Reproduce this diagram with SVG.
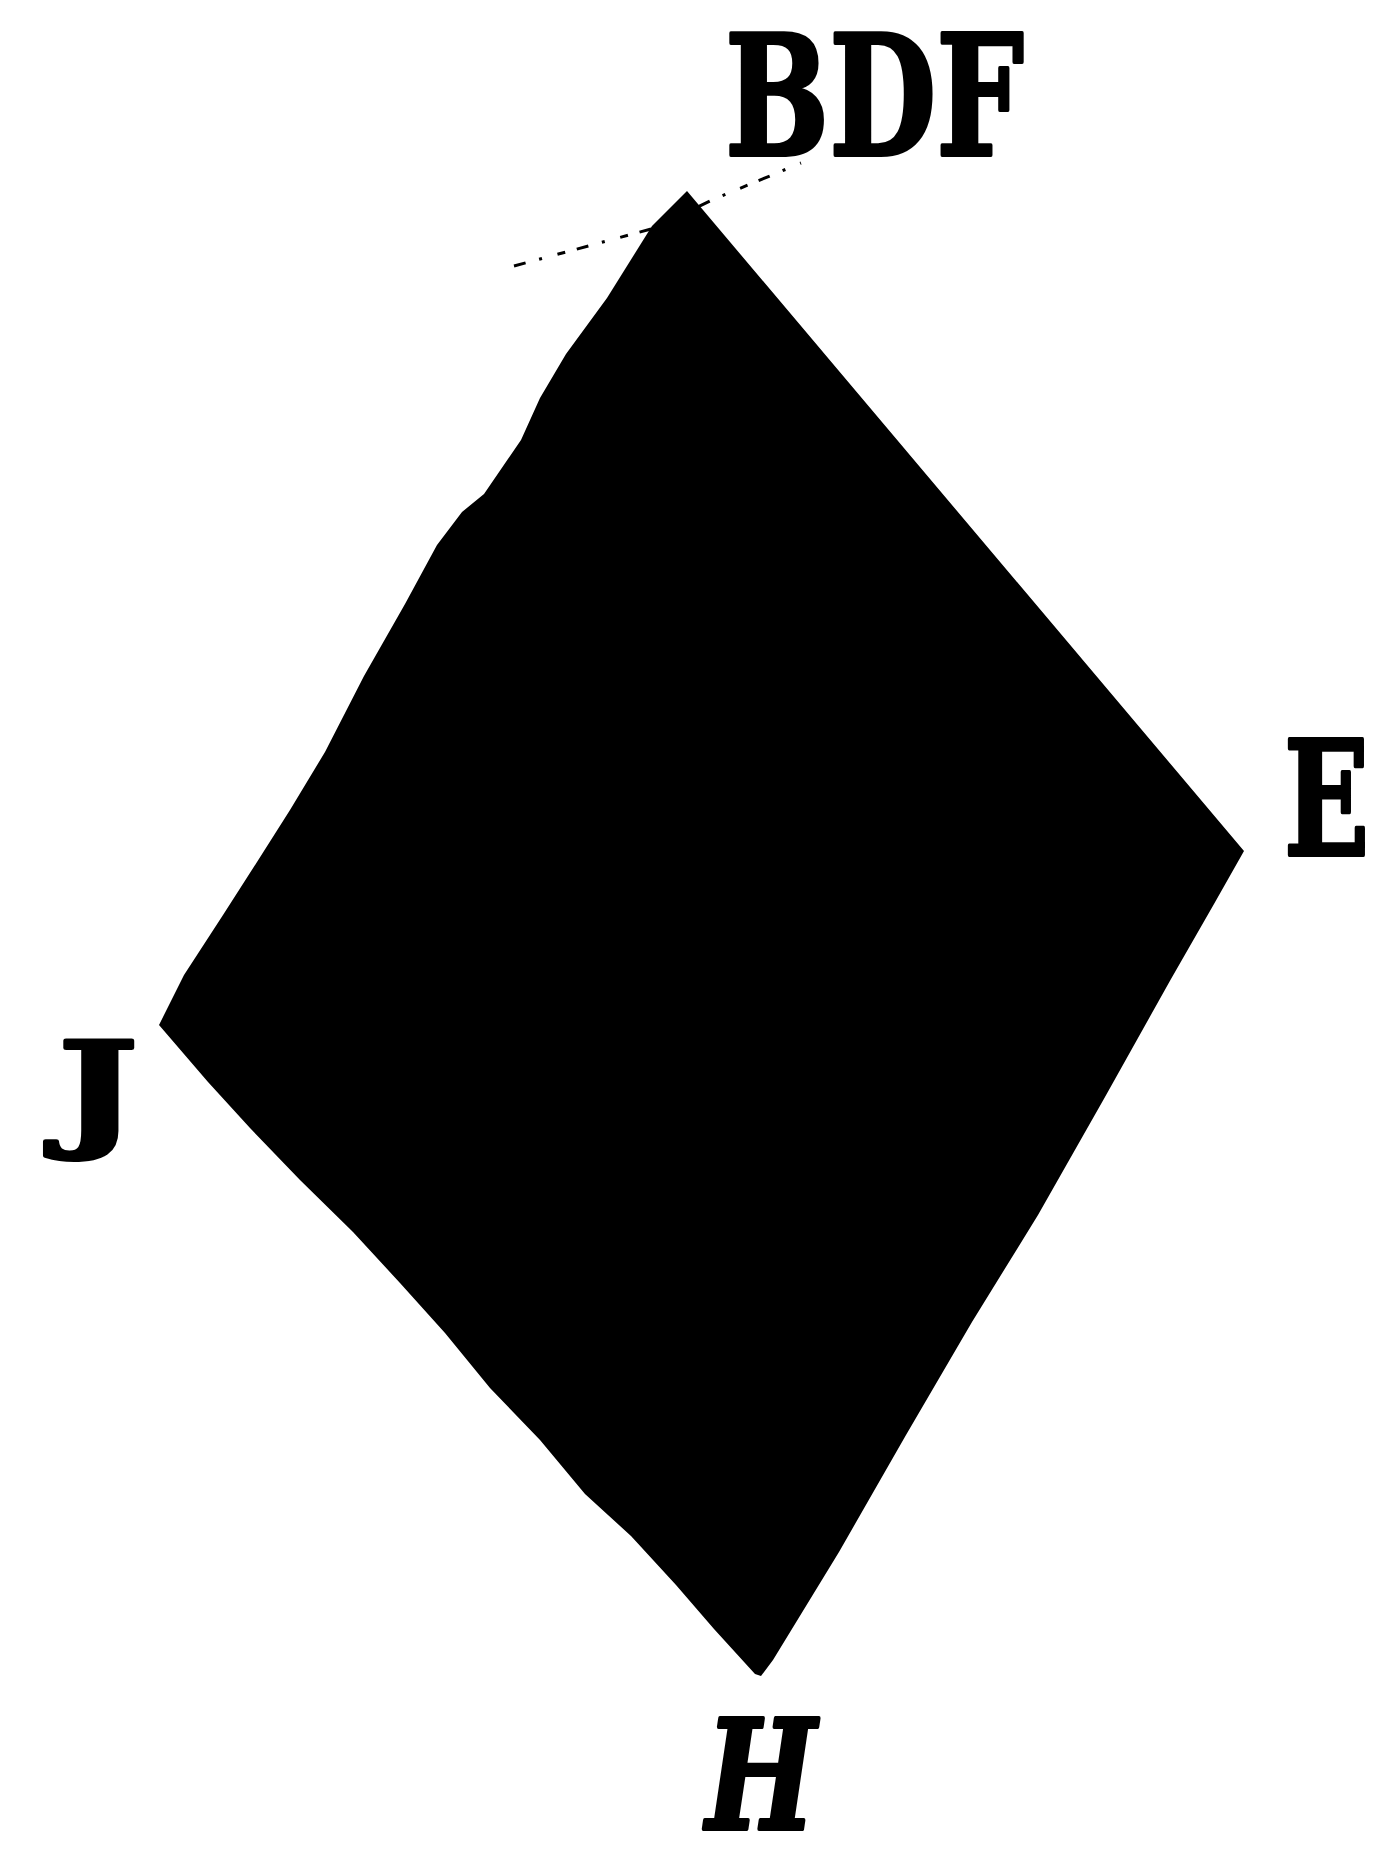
<svg xmlns="http://www.w3.org/2000/svg" width="1381" height="1866" viewBox="0 0 1381 1866">
<style>
.lbl{font-family:"DejaVu Serif","Liberation Serif",serif;font-weight:bold;fill:#000;stroke:#000;stroke-width:4;stroke-linejoin:round}
.dash{stroke:#000;stroke-width:3;fill:none;stroke-dasharray:12 14 3 16 8 12}
</style>
<rect width="1381" height="1866" fill="#fff"/>
<g id="connectors">
<path class="dash" d="M514,266 L655,228 L712,200 L801,163"/>
</g>
<g id="shape">
<polygon fill="#000" points="687,191 1244,851 1214,904 1171,979 1105,1097 1038,1215 972,1322 906,1435 839,1552 773,1660 761,1676 755,1674 714,1629 676,1585 631,1536 585,1494 540,1440 490,1388 445,1333 400,1283 353,1232 300,1180 250,1128 208,1082 159,1025 184,975 223,915 257,862 290,810 325,752 364,676 405,604 437,545 462,512 484,494 521,440 540,398 566,354 607,298 652,226"/>
</g>
<g id="label-BDF"><text class="lbl" x="725" y="155" font-size="166" textLength="299" lengthAdjust="spacingAndGlyphs">BDF</text></g>
<g id="label-E"><text class="lbl" transform="translate(1284,855) scale(0.7,1)" x="0" y="0" font-size="160">E</text></g>
<g id="label-J"><text class="lbl" x="58" y="1133" font-size="128" textLength="80" lengthAdjust="spacingAndGlyphs">J</text></g>
<g id="label-H"><text class="lbl" x="706" y="1829" font-size="152" font-style="italic" textLength="110" lengthAdjust="spacingAndGlyphs">H</text></g>
</svg>
